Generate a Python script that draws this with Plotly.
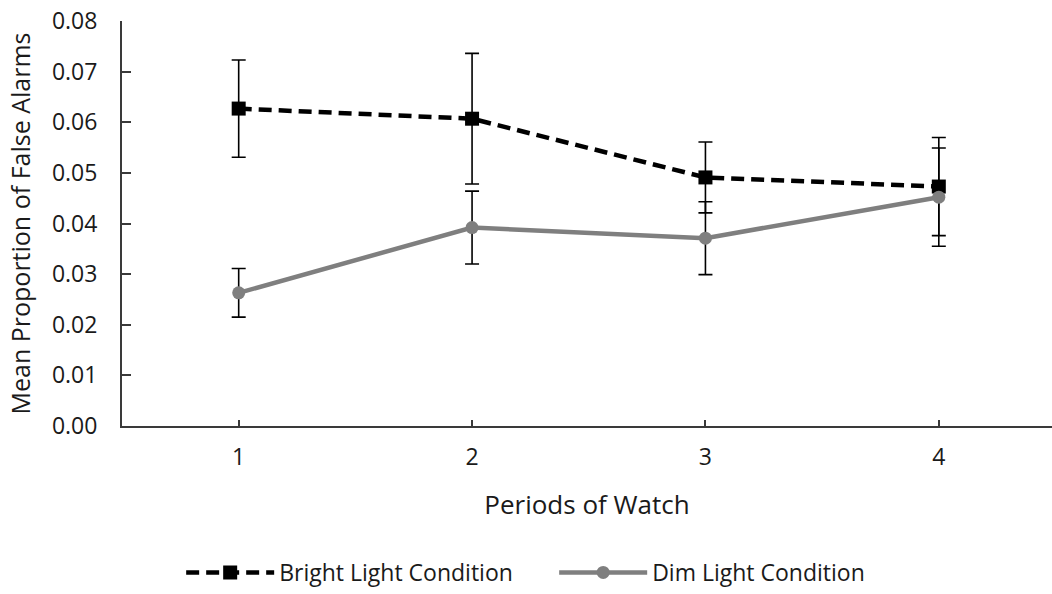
import plotly.graph_objects as go

periods = [1, 2, 3, 4]
period_labels = ["1", "2", "3", "4"]

bright_mean = [0.0627, 0.0607, 0.0491, 0.0473]
bright_err = [0.0096, 0.0129, 0.0070, 0.0097]

dim_mean = [0.0263, 0.0392, 0.0371, 0.0452]
dim_err = [0.0048, 0.0072, 0.0072, 0.0097]

y_ticks = [0.00, 0.01, 0.02, 0.03, 0.04, 0.05, 0.06, 0.07, 0.08]

FONT = "Open Sans"

fig = go.Figure()
fig.add_trace(go.Scatter(
    x=periods, y=bright_mean, name="Bright Light Condition",
    mode="lines+markers",
    line=dict(color="black", width=4.5, dash="13px,7px"),
    marker=dict(symbol="square", size=14, color="black"),
    error_y=dict(type="data", array=bright_err, visible=True,
                 color="black", thickness=1.6, width=7),
))
fig.add_trace(go.Scatter(
    x=periods, y=dim_mean, name="Dim Light Condition",
    mode="lines+markers",
    line=dict(color="#7f7f7f", width=4.5),
    marker=dict(symbol="circle", size=13, color="#7f7f7f"),
    error_y=dict(type="data", array=dim_err, visible=True,
                 color="black", thickness=1.6, width=7),
))

fig.update_layout(
    width=1052, height=594,
    margin=dict(l=122, r=0, t=21, b=168),
    paper_bgcolor="white", plot_bgcolor="white",
    font=dict(family=FONT, size=23, color="#1a1a1a"),
    showlegend=True,
    legend=dict(orientation="h", x=0.4647, xanchor="center",
                yref="container", y=0, yanchor="bottom",
                itemwidth=88, font=dict(size=23), traceorder="normal",
                entrywidth=270),
    xaxis=dict(
        range=[0.5, 4.485], tickvals=periods, ticktext=period_labels,
        showline=True, linecolor="#3a3a3a", linewidth=2,
        ticks="inside", ticklen=6, tickcolor="#3a3a3a", tickwidth=2,
        showgrid=False, zeroline=False, ticklabelstandoff=9,
        automargin=False,
        title=dict(text="Periods of Watch", font=dict(size=26), standoff=25),
    ),
    yaxis=dict(
        range=[0, 0.08], tickvals=y_ticks, tickformat=".2f",
        showline=True, linecolor="#3a3a3a", linewidth=2,
        ticks="inside", ticklen=9, tickcolor="#3a3a3a", tickwidth=1.5,
        showgrid=False, zeroline=False, ticklabelstandoff=18,
        ticklabeloverflow="allow",
        automargin=False,
        title=dict(text="Mean Proportion of False Alarms", font=dict(size=25), standoff=14),
    ),
)

fig.write_html("out.html", config={"displayModeBar": False},
               post_script="document.body.style.margin='0';")
